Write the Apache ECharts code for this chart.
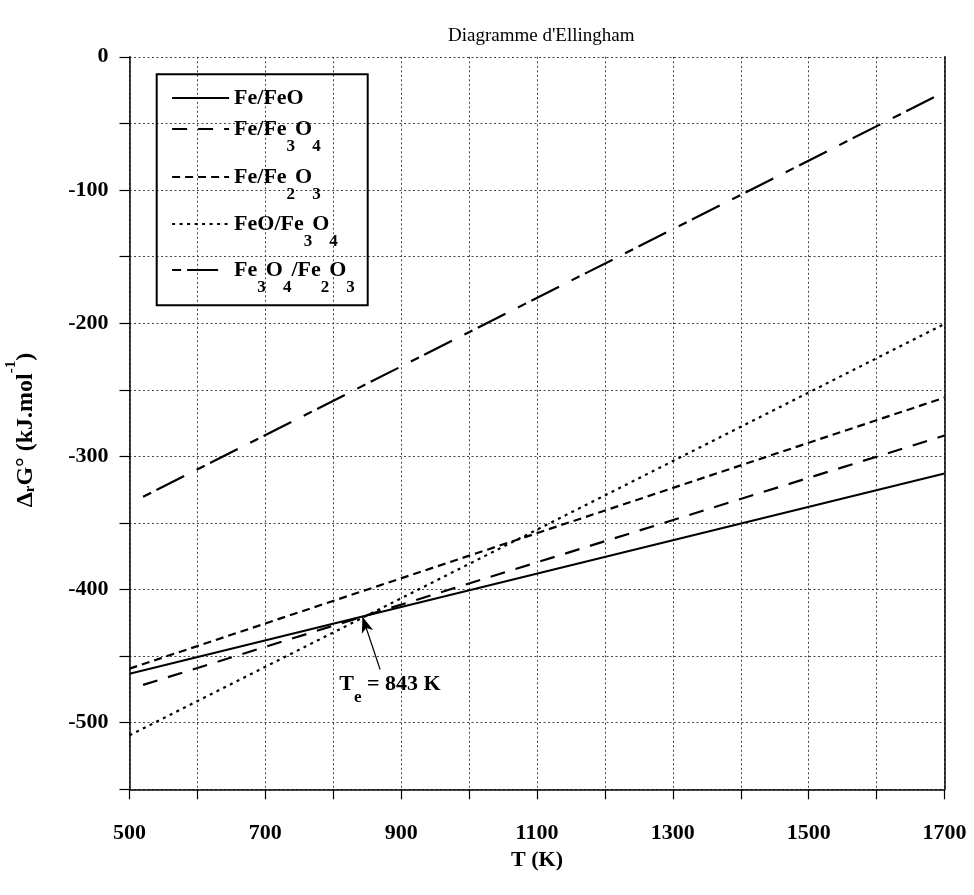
<!DOCTYPE html>
<html>
<head>
<meta charset="utf-8">
<script src="https://cdn.jsdelivr.net/npm/echarts@6/dist/echarts.min.js"></script>
<style>html,body{margin:0;padding:0;background:#fff}#c{width:974px;height:895px}</style>
</head>
<body>
<div id="c"></div>
<script>
// ---- data ----
const seriesNames = ['Fe/FeO', 'Fe/Fe3O4', 'Fe/Fe2O3', 'FeO/Fe3O4', 'Fe3O4/Fe2O3'];
const legendLabels = [
  '{m|Fe/FeO}',
  '{m|Fe/Fe}{s|3}{m|O}{s|4}',
  '{m|Fe/Fe}{s|2}{m|O}{s|3}',
  '{m|FeO/Fe}{s|3}{m|O}{s|4}',
  '{m|Fe}{s|3}{m|O}{s|4}{m|/Fe}{s|2}{m|O}{s|3}'
];
const T_FeFeO = [500, 1700];      const G_FeFeO = [-463.2, -312.9];
const T_FeFe3O4 = [520, 1700];    const G_FeFe3O4 = [-471.6, -284.4];
const T_FeFe2O3 = [500, 1700];    const G_FeFe2O3 = [-459.4, -255.9];
const T_FeOFe3O4 = [500, 1700];   const G_FeOFe3O4 = [-509.5, -200.6];
const T_Fe3O4Fe2O3 = [520, 1700]; const G_Fe3O4Fe2O3 = [-330.4, -26.4];
const Te = 843; const G_Te = -420.4;
const arrowTail = [869, -460];
const teLabelPos = [883.6, -471.2];
const xTicks = {min: 500, max: 1700, step: 100, labelStep: 200};
const yTicks = {min: -550, max: 0, step: 50, labelStep: 100};
// ---------------------------------------

const FONT = '"Liberation Serif","Times New Roman",serif';
const pairs = (xs, ys) => xs.map((x, i) => [x, ys[i]]);
const dashes = ['solid', [15, 11], [8, 5], [3, 4.5], [9, 6, 31, 14]];
const datas = [
  pairs(T_FeFeO, G_FeFeO), pairs(T_FeFe3O4, G_FeFe3O4), pairs(T_FeFe2O3, G_FeFe2O3),
  pairs(T_FeOFe3O4, G_FeOFe3O4), pairs(T_Fe3O4Fe2O3, G_Fe3O4Fe2O3)
];
const rowCenters = [97.5, 128.5, 176.5, 223.5, 269.5];
const P = 16;
const legendRich = {
  m: {fontFamily: FONT, fontWeight: 'bold', fontSize: 22, color: '#000', verticalAlign: 'top', padding: [P, 0, P, 0]},
  s: {fontFamily: FONT, fontWeight: 'bold', fontSize: 17, color: '#000', verticalAlign: 'top', padding: [36, 0, 0, 0]}
};

const series = seriesNames.map((n, i) => ({
  name: n, type: 'line', data: datas[i], symbol: 'none', showSymbol: false, animation: false,
  lineStyle: {color: '#000', width: 2.2, type: dashes[i]},
  itemStyle: {color: '#000'},
  z: 3
}));
series[0].markLine = {
  silent: true, animation: false, symbol: ['none', 'arrow'], symbolSize: [9, 16],
  label: {show: false},
  lineStyle: {color: '#000', width: 1.2, type: 'solid'},
  data: [[{coord: arrowTail, symbol: 'none'}, {coord: [Te, G_Te], symbol: 'arrow'}]]
};
series[0].markPoint = {
  silent: true, animation: false, symbol: 'circle', symbolSize: 0,
  itemStyle: {color: 'transparent'},
  label: {
    show: true, position: 'inside', color: '#000',
    formatter: '{m|T}{s|e}{m| = ' + Te + ' K}',
    rich: {
      m: {fontFamily: FONT, fontWeight: 'bold', fontSize: 22, color: '#000', verticalAlign: 'top', padding: [P, 0, P, 0]},
      s: {fontFamily: FONT, fontWeight: 'bold', fontSize: 17, color: '#000', verticalAlign: 'top', padding: [32, 0, 0, 0]}
    }
  },
  data: [{coord: teLabelPos}]
};

const legends = seriesNames.map((n, i) => ({
  data: [n], orient: 'horizontal', left: 171, top: rowCenters[i] - 10.5,
  itemWidth: 57, itemHeight: 14, padding: 0, itemGap: 0,
  itemStyle: {color: 'rgba(0,0,0,0)', borderColor: 'rgba(0,0,0,0)', borderWidth: 0, opacity: 0},
  lineStyle: {color: '#000', width: 2.2},
  formatter: () => legendLabels[i],
  textStyle: {rich: legendRich},
  selectedMode: false
}));

const chart = echarts.init(document.getElementById('c'), null, {renderer: 'canvas'});
chart.setOption({
  backgroundColor: '#fff',
  animation: false,
  title: {
    text: "Diagramme d'Ellingham", left: 443, top: 22,
    textStyle: {fontFamily: FONT, fontWeight: 'normal', fontSize: 19, color: '#000'}
  },
  grid: {left: 129.5, right: 29.5, top: 56.8, bottom: 105.7, containLabel: false, outerBoundsMode: 'none'},
  legend: legends,
  graphic: [{
    type: 'rect', left: 155.7, top: 73.3, z: 10,
    shape: {width: 211, height: 231},
    style: {fill: 'rgba(0,0,0,0)', stroke: '#000', lineWidth: 2}
  }],
  xAxis: {
    type: 'value', min: xTicks.min, max: xTicks.max, interval: xTicks.step,
    name: 'T (K)', nameLocation: 'middle', nameGap: 60,
    nameTextStyle: {fontFamily: FONT, fontWeight: 'bold', fontSize: 22, color: '#000'},
    axisLine: {show: true, onZero: false, lineStyle: {color: '#000', width: 1.5}},
    axisTick: {show: true, inside: false, length: 10, lineStyle: {color: '#000', width: 1.2}},
    axisLabel: {
      margin: 33, fontFamily: FONT, fontWeight: 'bold', fontSize: 22, color: '#000',
      formatter: v => ((v - xTicks.min) % xTicks.labelStep === 0 ? String(v) : '')
    },
    splitLine: {show: true, lineStyle: {color: '#444', width: 1, type: [2, 2.5]}}
  },
  yAxis: [{
    type: 'value', min: yTicks.min, max: yTicks.max, interval: yTicks.step,
    name: '{m|Δ}{r|r}{m|G° (kJ.mol}{u|-1}{e|)}', nameLocation: 'middle', nameRotate: 90, nameGap: 76,
    nameTextStyle: {
      rich: {
        m: {fontFamily: FONT, fontWeight: 'bold', fontSize: 24, color: '#000', verticalAlign: 'top', padding: [P, 0, P, 0]},
        e: {fontFamily: FONT, fontWeight: 'bold', fontSize: 24, color: '#000', verticalAlign: 'top', padding: [P, 14, P, 0]},
        r: {fontFamily: FONT, fontWeight: 'bold', fontSize: 15, color: '#000', verticalAlign: 'top', padding: [25, 0, 0, 0]},
        u: {fontFamily: FONT, fontWeight: 'bold', fontSize: 15, color: '#000', verticalAlign: 'top', padding: [6, 0, 0, 0]}
      }
    },
    axisLine: {show: true, onZero: false, lineStyle: {color: '#000', width: 1.5}},
    axisTick: {show: true, inside: false, length: 10, lineStyle: {color: '#000', width: 1.2}},
    axisLabel: {
      margin: 21, fontFamily: FONT, fontWeight: 'bold', fontSize: 22, color: '#000',
      formatter: v => (v % yTicks.labelStep === 0 ? String(v) : '')
    },
    splitLine: {show: true, lineStyle: {color: '#444', width: 1, type: [2, 2.5]}}
  }, {
    type: 'value', position: 'right', min: yTicks.min, max: yTicks.max, interval: yTicks.step,
    axisLine: {show: true, lineStyle: {color: '#000', width: 1.5}},
    axisTick: {show: false}, axisLabel: {show: false}, splitLine: {show: false}
  }],
  series: series
});
</script>
</body>
</html>
